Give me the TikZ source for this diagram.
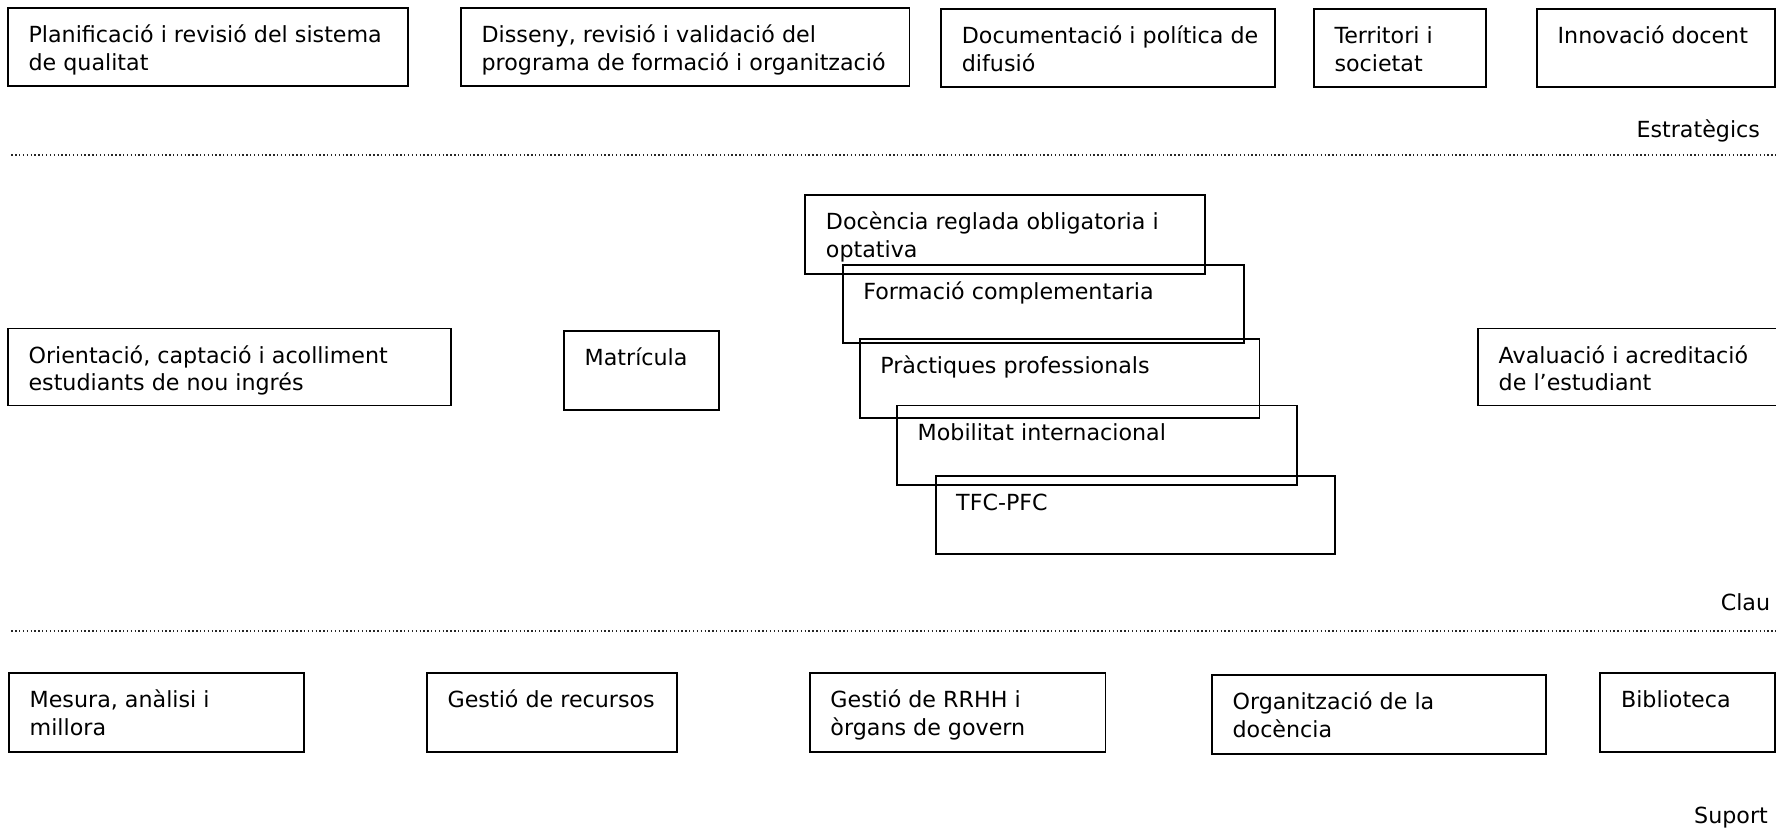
\documentclass[tikz,border=0pt]{standalone}
\usepackage{fontspec}
\setmainfont{DejaVu Sans}
\usetikzlibrary{calc}
\newcommand\procbox[6]{% name, x, y, w, h, text
  \node[pbox, minimum width=#4pt, minimum height=#5pt] (#1) at (#2,#3) {};
  \node[ptxt] (#1-t) at ($(#1.north west)+(18,13.4)$) {\strut #6};}
\begin{document}
\begin{tikzpicture}[x=1pt,y=-1pt,
  pbox/.style={draw=black, line width=1.7pt, inner sep=0pt, outer sep=0pt, anchor=north west},
  ptxt/.style={anchor=north west, inner sep=0pt, align=left, font=\fontsize{19.6}{24.4}\selectfont},
  plabel/.style={anchor=base east, inner sep=0pt, font=\fontsize{19.6}{24.4}\selectfont},
  sepline/.style={line width=1.2pt, dash pattern=on 1.2pt off 2.2pt, black!85}]
\useasboundingbox (0,0) rectangle (1568,733.7);
% strategic
\procbox{b1}{7}{7}{353}{69}{Planificació i revisió del sistema\\de qualitat}
\procbox{b2}{407}{7}{396}{69}{Disseny, revisió i validació del\\programa de formació i organització}
\procbox{b3}{831}{8}{295}{69}{Documentació i política de\\difusió}
\procbox{b4}{1160}{8}{152}{69}{Territori i\\societat}
\procbox{b5}{1357}{8}{210}{69}{Innovació docent}
\node[plabel] (lest) at (1554,121) {Estratègics};
\coordinate (s1a) at (10,137);
\coordinate (s1b) at (1568,137);
\draw[sepline] (s1a) -- (s1b);
% key
\procbox{k1}{7}{290}{391}{68}{Orientació, captació i acolliment\\estudiants de nou ingrés}
\procbox{k2}{498}{292}{137}{70}{Matrícula}
\procbox{d1}{711}{172}{353}{70}{Docència reglada obligatoria i\\optativa}
\procbox{d2}{744}{234}{354}{69}{Formació complementaria}
\procbox{d3}{759}{299}{353}{70}{Pràctiques professionals}
\procbox{d4}{792}{358}{353}{70}{Mobilitat internacional}
\procbox{d5}{826}{420}{353}{69}{TFC-PFC}
\procbox{k3}{1305}{290}{275}{68}{Avaluació i acreditació\\de l’estudiant}
\node[plabel] (lclau) at (1563,539) {Clau};
\coordinate (s2a) at (10,557);
\coordinate (s2b) at (1568,557);
\draw[sepline] (s2a) -- (s2b);
% support
\procbox{p1}{8}{594}{260}{70}{Mesura, anàlisi i\\millora}
\procbox{p2}{377}{594}{221}{70}{Gestió de recursos}
\procbox{p3}{715}{594}{261}{70}{Gestió de RRHH i\\òrgans de govern}
\procbox{p4}{1070}{596}{295}{70}{Organització de la\\docència}
\procbox{p5}{1413}{594}{154}{70}{Biblioteca}
\node[plabel] (lsup) at (1561,727) {Suport};
\end{tikzpicture}
\end{document}
